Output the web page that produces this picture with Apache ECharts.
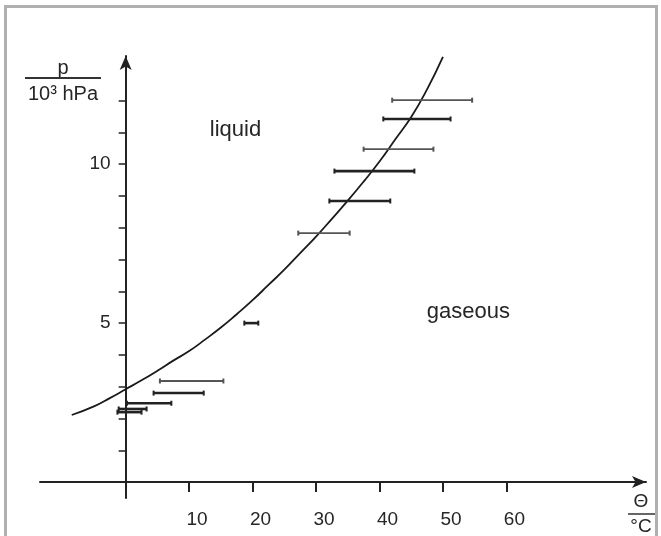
<!DOCTYPE html>
<html>
<head>
<meta charset="utf-8">
<script src="https://cdn.jsdelivr.net/npm/echarts@6/dist/echarts.min.js"></script>
<style>
html,body{margin:0;padding:0;background:#fff;}
#chart{width:661px;height:536px;}
</style>
</head>
<body>
<div id="chart"></div>
<script>
// Vapour-pressure curve: [theta °C, p / 10^3 hPa]
const curvePoints = [
  [-8.5, 2.11], [-5, 2.38], [-2.5, 2.64], [0, 2.92], [2.5, 3.20], [5, 3.50],
  [7.5, 3.82], [10, 4.12], [12.5, 4.48], [15, 4.86], [17.5, 5.28], [20, 5.72],
  [22.5, 6.20], [25, 6.68], [27.5, 7.20], [30, 7.72], [32.5, 8.28], [35, 8.85],
  [37.5, 9.45], [40, 10.08], [42.5, 10.78], [45, 11.48], [47.5, 12.35], [50, 13.37]
];
// Horizontal error bars: [p, theta low, theta high]
const barsThin = [
  [12.01, 42.0, 54.6], [10.47, 37.5, 48.5], [7.83, 27.2, 35.3], [3.18, 5.4, 15.4]
];
const barsThick = [
  [11.42, 40.6, 51.2], [9.78, 32.9, 45.5], [8.84, 32.1, 41.7], [5.00, 18.7, 20.9],
  [2.80, 4.4, 12.3], [2.48, 0.2, 7.2], [2.30, -1.1, 3.3], [2.20, -1.3, 2.5]
];
const xTicks = [10, 20, 30, 40, 50, 60];
const yTicks = [1, 2, 3, 4, 5, 6, 7, 8, 9, 10, 11, 12];
const yLabels = [5, 10];
const regionLabels = [
  { name: 'liquid', value: [17.3, 11.07] },
  { name: 'gaseous', value: [54.0, 5.35] }
];

const FONT = '"Liberation Sans", Arial, sans-serif';
const INK = '#222';
const TEXT = '#262626';

const X_MIN = -13.5, X_MAX = 82, Y_MIN = -0.5, Y_MAX = 13.4;
const GRID = { left: 40, right: 15, top: 56, bottom: 38 };
const plotW = 661 - GRID.left - GRID.right;
const plotH = 536 - GRID.top - GRID.bottom;
// shift the axes so they cross at (0, 0)
const yAxisOffset = -plotW * (0 - X_MIN) / (X_MAX - X_MIN);
const xAxisOffset = -plotH * (0 - Y_MIN) / (Y_MAX - Y_MIN);

function errorBarRenderer(color, width) {
  return function (params, api) {
    const y = api.value(0), lo = api.value(1), hi = api.value(2);
    const a = api.coord([lo, y]);
    const b = api.coord([hi, y]);
    const cap = 2.5;
    return {
      type: 'group',
      children: [
        { type: 'line', shape: { x1: a[0], y1: a[1], x2: b[0], y2: b[1] }, style: { stroke: color, lineWidth: width } },
        { type: 'line', shape: { x1: a[0], y1: a[1] - cap, x2: a[0], y2: a[1] + cap }, style: { stroke: color, lineWidth: 2 } },
        { type: 'line', shape: { x1: b[0], y1: b[1] - cap, x2: b[0], y2: b[1] + cap }, style: { stroke: color, lineWidth: 2 } }
      ]
    };
  };
}

const chart = echarts.init(document.getElementById('chart'), null, { renderer: 'canvas' });
chart.setOption({
  animation: false,
  backgroundColor: '#fff',
  grid: Object.assign({ containLabel: false }, GRID),
  xAxis: {
    type: 'value', min: X_MIN, max: X_MAX, position: 'bottom', offset: xAxisOffset,
    splitLine: { show: false },
    axisLine: { onZero: false, symbol: ['none', 'arrow'], symbolSize: [9, 14],
      lineStyle: { color: INK, width: 2 } },
    axisTick: { customValues: xTicks, length: 10, lineStyle: { color: INK, width: 2 } },
    axisLabel: { customValues: xTicks, margin: 28, fontSize: 19, color: TEXT,
      fontFamily: FONT, padding: [0, 0, 0, 16] }
  },
  yAxis: {
    type: 'value', min: Y_MIN, max: Y_MAX, position: 'left', offset: yAxisOffset,
    splitLine: { show: false },
    axisLine: { onZero: false, symbol: ['none', 'arrow'], symbolSize: [9, 14],
      lineStyle: { color: INK, width: 2 } },
    axisTick: { customValues: yTicks, length: 7, lineStyle: { color: INK, width: 1.5 } },
    axisLabel: { customValues: yLabels, margin: 15, fontSize: 19, color: TEXT, fontFamily: FONT }
  },
  series: [
    {
      type: 'line', data: curvePoints, smooth: true, showSymbol: false,
      lineStyle: { color: '#1a1a1a', width: 1.8 }, z: 3
    },
    {
      type: 'custom', data: barsThin, encode: { x: [1, 2], y: 0 },
      renderItem: errorBarRenderer('#555', 1.8), z: 4
    },
    {
      type: 'custom', data: barsThick, encode: { x: [1, 2], y: 0 },
      renderItem: errorBarRenderer('#222', 2.6), z: 4
    },
    {
      type: 'scatter', data: regionLabels, symbolSize: 1,
      itemStyle: { color: '#fff', opacity: 1 },
      label: { show: true, position: 'inside', formatter: '{b}', fontSize: 22,
        color: TEXT, textBorderWidth: 0, fontFamily: FONT }
    }
  ],
  graphic: [
    { type: 'rect', shape: { x: 5.5, y: 6.5, width: 651, height: 545 },
      style: { fill: 'none', stroke: '#b0b0b0', lineWidth: 3 }, z: 0 },
    { type: 'text', x: 63, y: 68, style: { text: 'p', font: '20px ' + FONT, fill: TEXT,
      textAlign: 'center', textVerticalAlign: 'middle' } },
    { type: 'line', shape: { x1: 25, y1: 78, x2: 101, y2: 78 }, style: { stroke: '#333', lineWidth: 2 } },
    { type: 'text', x: 63, y: 94, style: { text: '10³ hPa', font: '20px ' + FONT, fill: TEXT,
      textAlign: 'center', textVerticalAlign: 'middle' } },
    { type: 'text', x: 641, y: 502, style: { text: 'Θ', font: '19px ' + FONT, fill: TEXT,
      textAlign: 'center', textVerticalAlign: 'middle' } },
    { type: 'line', shape: { x1: 628, y1: 514, x2: 655, y2: 514 }, style: { stroke: '#333', lineWidth: 1.5 } },
    { type: 'text', x: 641, y: 527, style: { text: '°C', font: '19px ' + FONT, fill: TEXT,
      textAlign: 'center', textVerticalAlign: 'middle' } }
  ]
});
</script>
</body>
</html>
